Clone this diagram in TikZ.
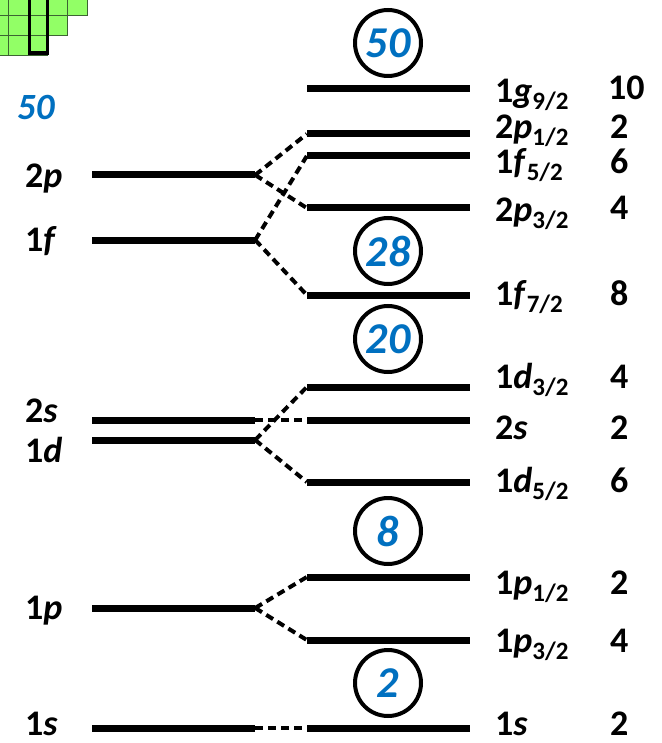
\documentclass[tikz,border=0pt]{standalone}
\usepackage{fontspec}
\setmainfont{Carlito}
\definecolor{magicblue}{RGB}{0,112,192}
\definecolor{gridgreen}{RGB}{146,255,102}
\definecolor{gridline}{RGB}{60,100,50}
\newcommand{\orb}[3]{#1\textit{#2}\raisebox{-7pt}{\fontsize{25}{25}\selectfont #3}}
\tikzset{
  lvl/.style={rectangle, fill=black, minimum width=163pt, minimum height=7pt, inner sep=0pt},
  split/.style={dash pattern=on 8pt off 5pt, line width=4pt},
  lab/.style={anchor=base west, inner sep=0pt, font=\fontsize{36}{36}\selectfont\bfseries},
  magic/.style={circle, draw, line width=4pt, minimum size=66pt, inner sep=0pt, text=magicblue, font=\fontsize{44}{44}\selectfont\bfseries\itshape},
  gcell/.style={fill=gridgreen, draw=gridline, line width=0.8pt}
}
\begin{document}
\begin{tikzpicture}[x=1pt,y=-1pt]
\useasboundingbox (0,0) rectangle (661,743);
\fill[white] (0,0) rectangle (661,743);
% green grid corner
\begin{scope}
\clip (0,0) rectangle (661,743);
\foreach \x in {-11.4,8.3,28,47.7,67.4} \draw[gcell] (\x,-20) rectangle ++(19.7,35.7);
\foreach \x in {-11.4,8.3,28,47.7} \draw[gcell] (\x,15.7) rectangle ++(19.7,19.7);
\foreach \x in {-11.4,8.3,28} \draw[gcell] (\x,35.4) rectangle ++(19.7,19.7);
\draw[line width=3.5pt] (29.3,-20) rectangle (47.3,53.2);
\end{scope}
\node[inner sep=0pt, anchor=base west, text=magicblue, font=\fontsize{37}{37}\selectfont\bfseries\itshape] (m50l) at (17,120) {50};
% left levels
\node[lvl] (L2p) at (173.5,175) {};
\node[lvl] (L1f) at (173.5,240) {};
\node[lvl] (L2s) at (173.5,420) {};
\node[lvl] (L1d) at (173.5,440) {};
\node[lvl] (L1p) at (173.5,608) {};
\node[lvl] (L1s) at (173.5,728) {};
% right levels
\node[lvl] (R1g9) at (388.5,89) {};
\node[lvl] (R2p1) at (388.5,134) {};
\node[lvl] (R1f5) at (388.5,156) {};
\node[lvl] (R2p3) at (388.5,208) {};
\node[lvl] (R1f7) at (388.5,295) {};
\node[lvl] (R1d3) at (388.5,387) {};
\node[lvl] (R2s)  at (388.5,420) {};
\node[lvl] (R1d5) at (388.5,482) {};
\node[lvl] (R1p1) at (388.5,577) {};
\node[lvl] (R1p3) at (388.5,640) {};
\node[lvl] (R1s)  at (388.5,728) {};
% splitting connectors
\draw[split] (L2p.east) -- (R2p1.west);
\draw[split] (L2p.east) -- (R2p3.west);
\draw[split] (L1f.east) -- (R1f5.west);
\draw[split] (L1f.east) -- (R1f7.west);
\draw[split] (L2s.east) -- (R2s.west);
\draw[split] (L1d.east) -- (R1d3.west);
\draw[split] (L1d.east) -- (R1d5.west);
\draw[split] (L1p.east) -- (R1p1.west);
\draw[split] (L1p.east) -- (R1p3.west);
\draw[split] (L1s.east) -- (R1s.west);
% magic numbers
\node[magic] (c50) at (388,43) {50};
\node[magic] (c28) at (388,251) {28};
\node[magic] (c20) at (388,339) {20};
\node[magic] (c8)  at (388,531) {8};
\node[magic] (c2)  at (388,683) {2};
% left labels
\node[lab] (t2p) at (25,188) {2\textit{p}};
\node[lab] (t1f) at (25,251) {1\textit{f}};
\node[lab] (t2s) at (25,422) {2\textit{s}};
\node[lab] (t1d) at (25,462) {1\textit{d}};
\node[lab] (t1p) at (25,619) {1\textit{p}};
\node[lab] (t1s) at (25,735) {1\textit{s}};
% right labels
\node[lab] (r1) at (495,103) {\orb{1}{g}{9/2}};
\node[lab] (r2) at (495,139) {\orb{2}{p}{1/2}};
\node[lab] (r3) at (495,174) {\orb{1}{f}{5/2}};
\node[lab] (r4) at (495,222) {\orb{2}{p}{3/2}};
\node[lab] (r5) at (495,305) {\orb{1}{f}{7/2}};
\node[lab] (r6) at (495,388) {\orb{1}{d}{3/2}};
\node[lab] (r7) at (495,439) {2\textit{s}};
\node[lab] (r8) at (495,492) {\orb{1}{d}{5/2}};
\node[lab] (r9) at (495,594) {\orb{1}{p}{1/2}};
\node[lab] (r10) at (495,652) {\orb{1}{p}{3/2}};
\node[lab] (r11) at (495,735) {1\textit{s}};
% degeneracies
\node[lab] (n1) at (608,100) {10};
\node[lab] (n2) at (610,139) {2};
\node[lab] (n3) at (610,174) {6};
\node[lab] (n4) at (610,219) {4};
\node[lab] (n5) at (610,305) {8};
\node[lab] (n6) at (610,388) {4};
\node[lab] (n7) at (610,439) {2};
\node[lab] (n8) at (610,492) {6};
\node[lab] (n9) at (610,594) {2};
\node[lab] (n10) at (610,652) {4};
\node[lab] (n11) at (610,735) {2};
\end{tikzpicture}
\end{document}
